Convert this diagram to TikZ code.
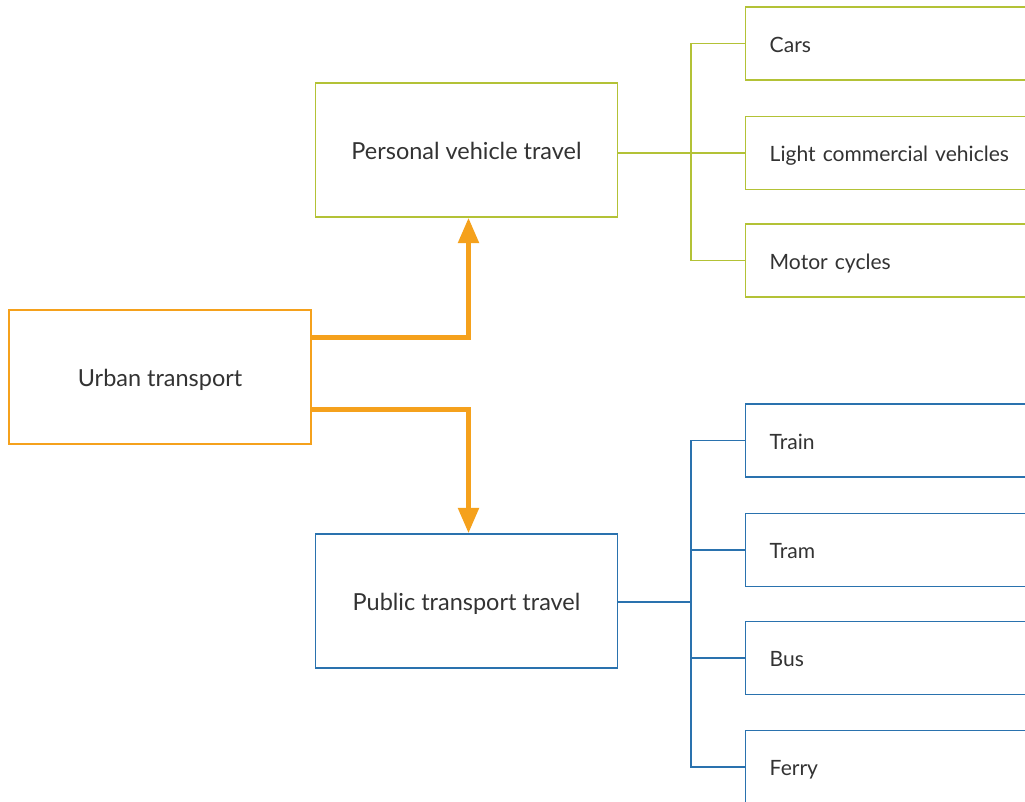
\documentclass[tikz,border=0pt]{standalone}
\usepackage{fontspec}
\setmainfont{Lato}
\usetikzlibrary{arrows.meta,calc}
\definecolor{lime}{HTML}{B3C236}
\definecolor{amber}{HTML}{F5A11C}
\definecolor{sea}{HTML}{2A72AE}
\definecolor{ink}{HTML}{333333}
\tikzset{
  box/.style={draw, line width=1.1pt, fill=white, text=ink, font=\fontsize{17.6}{21}\selectfont,
    minimum width=226.5pt, minimum height=100.5pt, inner sep=0pt, text height=14pt, text depth=0pt},
  leaf/.style={draw, line width=1.1pt, fill=white, text=ink, font=\fontsize{15.8}{19}\selectfont,
    anchor=west, minimum height=54.75pt, text width=237pt, inner xsep=18pt, inner ysep=0pt, align=left,
    text height=13pt, text depth=0pt},
  tree/.style={line width=1.1pt},
  flow/.style={draw=amber, line width=3.8pt, -{Triangle[width=15pt,length=19pt]}}
}
\begin{document}
\begin{tikzpicture}[x=0.75pt,y=-0.75pt]
\clip (0,0) rectangle (1025,802);
\fill[white] (0,0) rectangle (1025,802);

% root and the two travel modes
\node[box, draw=amber] (ut) at (160,377) {Urban transport};
\node[box, draw=lime] (pv) at (466.5,150) {Personal vehicle travel};
\node[box, draw=sea] (pt) at (466.5,601) {Public transport travel};

% personal vehicle categories
\node[leaf, draw=lime] (cars) at (745,43.5) {Cars};
\node[leaf, draw=lime] (lcv) at (745,153) {Light commercial vehicles};
\node[leaf, draw=lime] (moto) at (745,260.5) {Motor cycles};

% public transport categories
\node[leaf, draw=sea] (train) at (745,440.5) {Train};
\node[leaf, draw=sea] (tram) at (745,550) {Tram};
\node[leaf, draw=sea] (bus) at (745,658) {Bus};
\node[leaf, draw=sea] (ferry) at (745,767) {Ferry};

% tree trunks
\coordinate (gt) at (691,153);
\coordinate (bt) at (691,602);

\draw[tree, draw=lime] (pv.east |- gt) -- (lcv.west);
\draw[tree, draw=lime] (cars.west) -| (gt) |- (moto.west);

\draw[tree, draw=sea] (pt.east |- bt) -- (bt);
\draw[tree, draw=sea] (train.west) -| (bt) |- (ferry.west);
\draw[tree, draw=sea] (bt |- tram.west) -- (tram.west);
\draw[tree, draw=sea] (bt |- bus.west) -- (bus.west);

% arrows from the root
\draw[flow] ($(ut.north east)!0.21!(ut.south east)$) -| ([xshift=1.5pt]pv.south);
\draw[flow] ($(ut.north east)!0.74!(ut.south east)$) -| ([xshift=1.5pt]pt.north);
\end{tikzpicture}
\end{document}
